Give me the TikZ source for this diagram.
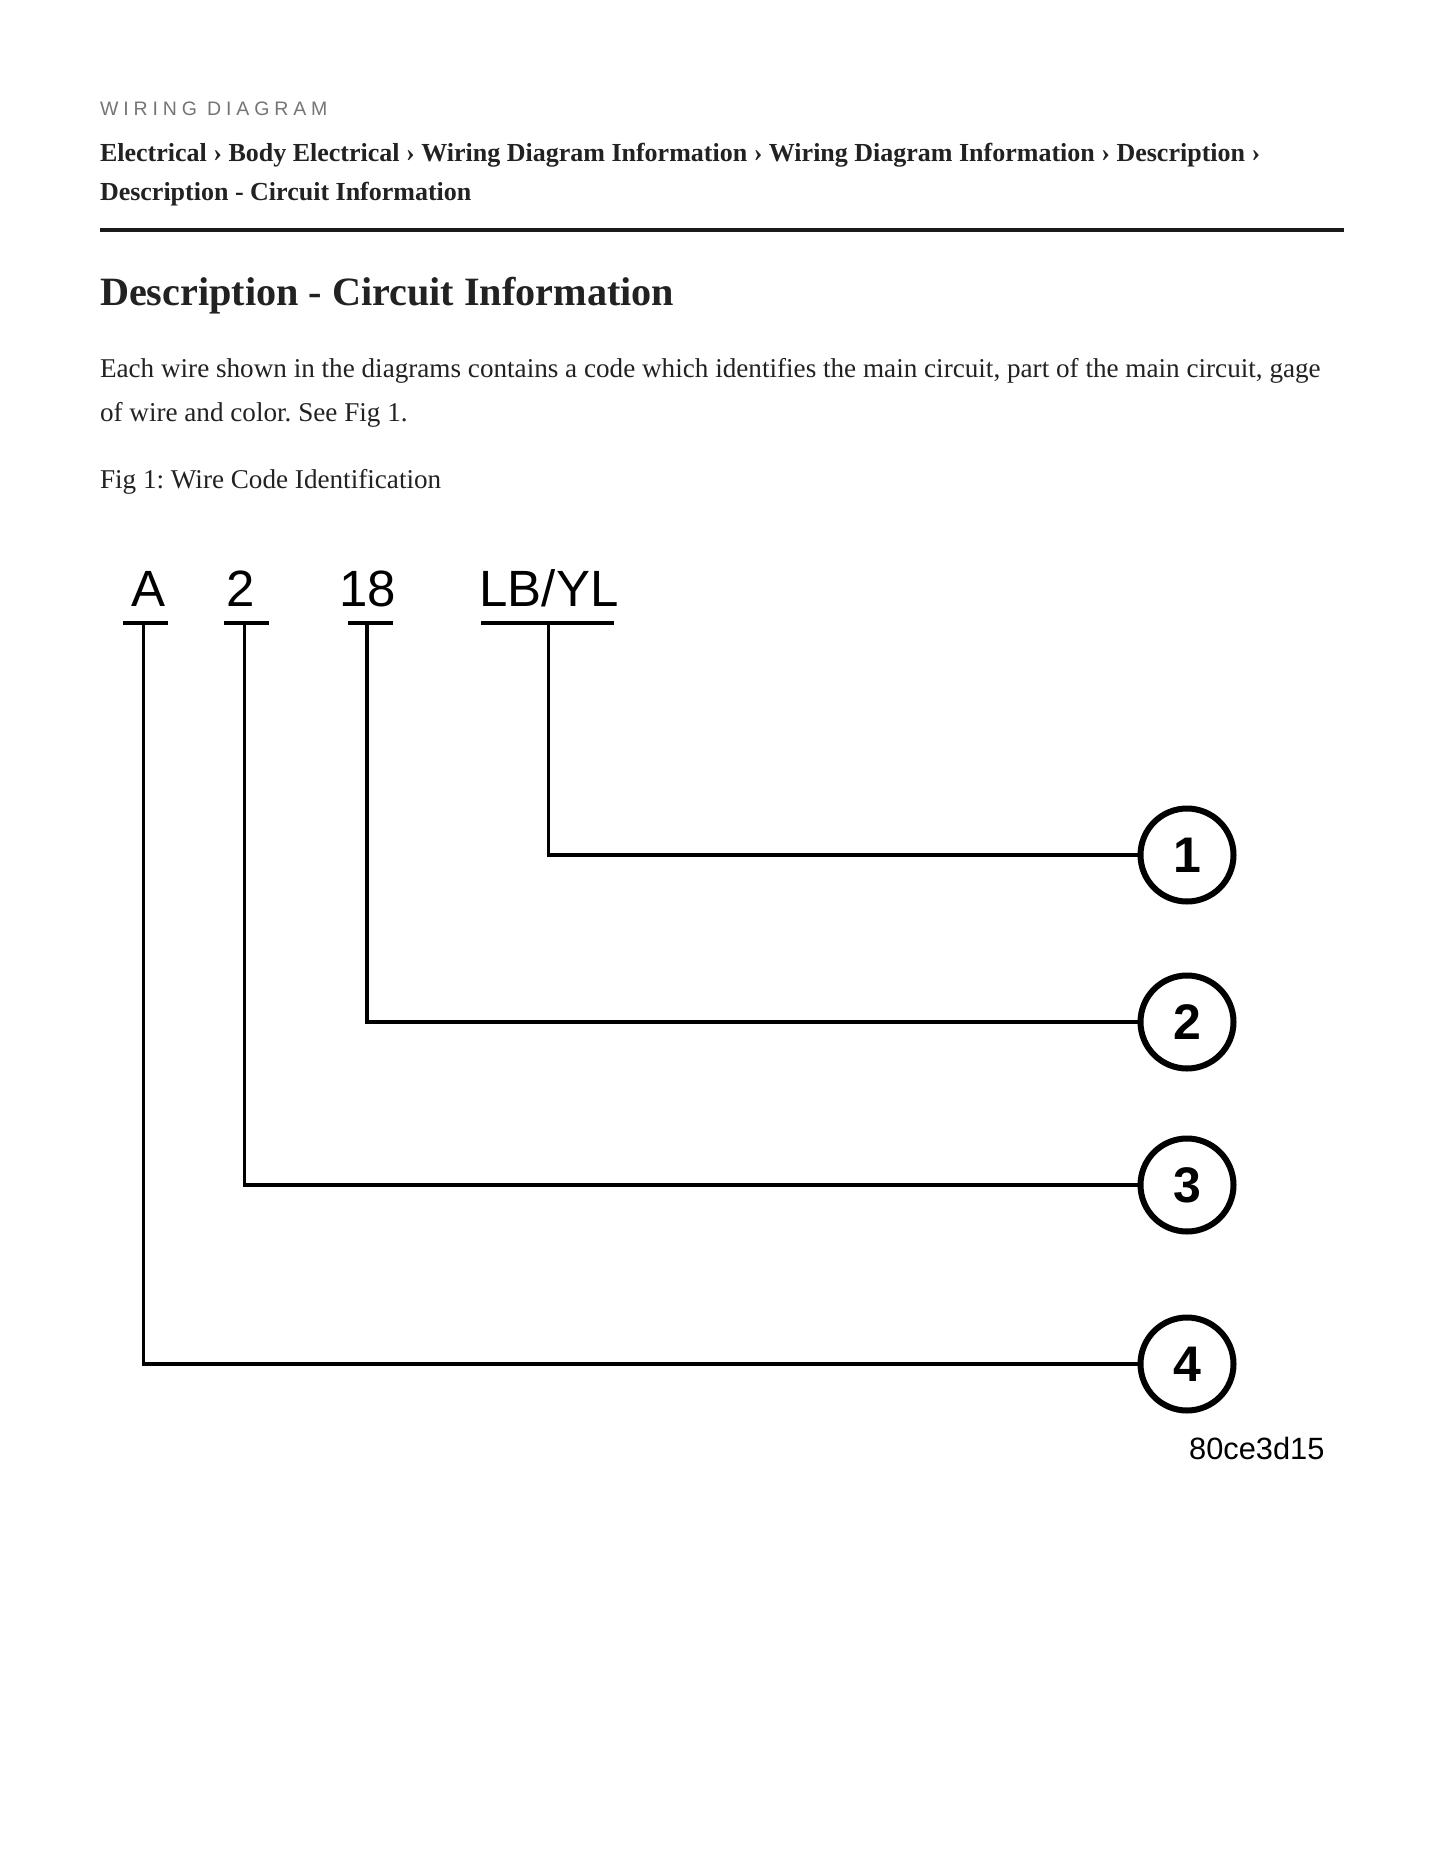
\documentclass[tikz,border=0pt]{standalone}
\usepackage{fontspec}
\setmainfont{Liberation Serif}
\newfontfamily\diagfont{Liberation Sans}
\newfontfamily\spacedfont[LetterSpace=25]{Liberation Sans}
\usetikzlibrary{calc}
\definecolor{ink}{HTML}{222222}
\definecolor{rulecol}{HTML}{1A1A1A}
\definecolor{kicker}{HTML}{757575}
\frenchspacing
\begin{document}
\begin{tikzpicture}[x=1pt,y=-1pt,
  txt/.style={anchor=base west,inner sep=0pt,outer sep=0pt,text=ink},
  lbl/.style={anchor=base,inner sep=0pt,outer sep=0pt,font=\diagfont\fontsize{51}{60}\selectfont},
  bar/.style={line width=4pt,black},
  wire/.style={line width=3.5pt,black},
  num/.style={circle,draw=black,line width=6pt,minimum size=93pt,inner sep=0pt,font=\diagfont\bfseries\fontsize{50}{60}\selectfont}]
\useasboundingbox[fill=white] (0,0) rectangle (1445,1870);
% header
\node[txt,text=kicker,font=\spacedfont\fontsize{19.5}{24}\selectfont] (kick) at (100,116) {WIRING DIAGRAM};
\node[txt,font=\bfseries\fontsize{26}{39}\selectfont] (crumb1) at (100,162) {Electrical › Body Electrical › Wiring Diagram Information › Wiring Diagram Information › Description ›};
\node[txt,font=\bfseries\fontsize{26}{39}\selectfont] (crumb2) at (100,201) {Description - Circuit Information};
\coordinate (ruleL) at (100,230);
\coordinate (ruleR) at (1344,230);
\draw[line width=4pt,rulecol] (ruleL) -- (ruleR);
\node[txt,font=\bfseries\fontsize{40.2}{48}\selectfont] (head) at (100,305) {Description - Circuit Information};
\node[txt,font=\fontsize{27.15}{44}\selectfont] (body1) at (100,377) {Each wire shown in the diagrams contains a code which identifies the main circuit, part of the main circuit, gage};
\node[txt,font=\fontsize{27.15}{44}\selectfont] (body2) at (100,421) {of wire and color. See Fig 1.};
\node[txt,font=\fontsize{27.15}{44}\selectfont] (cap) at (100,488) {Fig 1: Wire Code Identification};
% labels
\node[lbl] (lA) at (149,606) {A};
\node[lbl] (l2) at (241,606) {2};
\node[lbl] (l18) at (367.5,606) {18};
\node[lbl] (lLB) at (549,606) {LB/YL};
% bars
\coordinate (bA1) at (123,623); \coordinate (bA2) at (168,623);
\coordinate (b21) at (224,623); \coordinate (b22) at (269,623);
\coordinate (b181) at (348,623); \coordinate (b182) at (393,623);
\coordinate (bL1) at (481,623); \coordinate (bL2) at (614,623);
\draw[bar] (bA1) -- (bA2);
\draw[bar] (b21) -- (b22);
\draw[bar] (b181) -- (b182);
\draw[bar] (bL1) -- (bL2);
% wire tops
\coordinate (vA) at (143.4,623);
\coordinate (v2) at (244.5,623);
\coordinate (v18) at (367,623);
\coordinate (vL) at (548.6,623);
% circles
\node[num] (c1) at (1187,855) {1};
\node[num] (c2) at (1187,1022) {2};
\node[num] (c3) at (1187,1185) {3};
\node[num] (c4) at (1187,1364) {4};
\draw[wire] (vL) |- (c1);
\draw[wire] (v18) |- (c2);
\draw[wire] (v2) |- (c3);
\draw[wire] (vA) |- (c4);
\node[anchor=base west,inner sep=0pt,font=\diagfont\fontsize{30.8}{34}\selectfont] (code) at (1189,1459) {80ce3d15};
\end{tikzpicture}
\end{document}
